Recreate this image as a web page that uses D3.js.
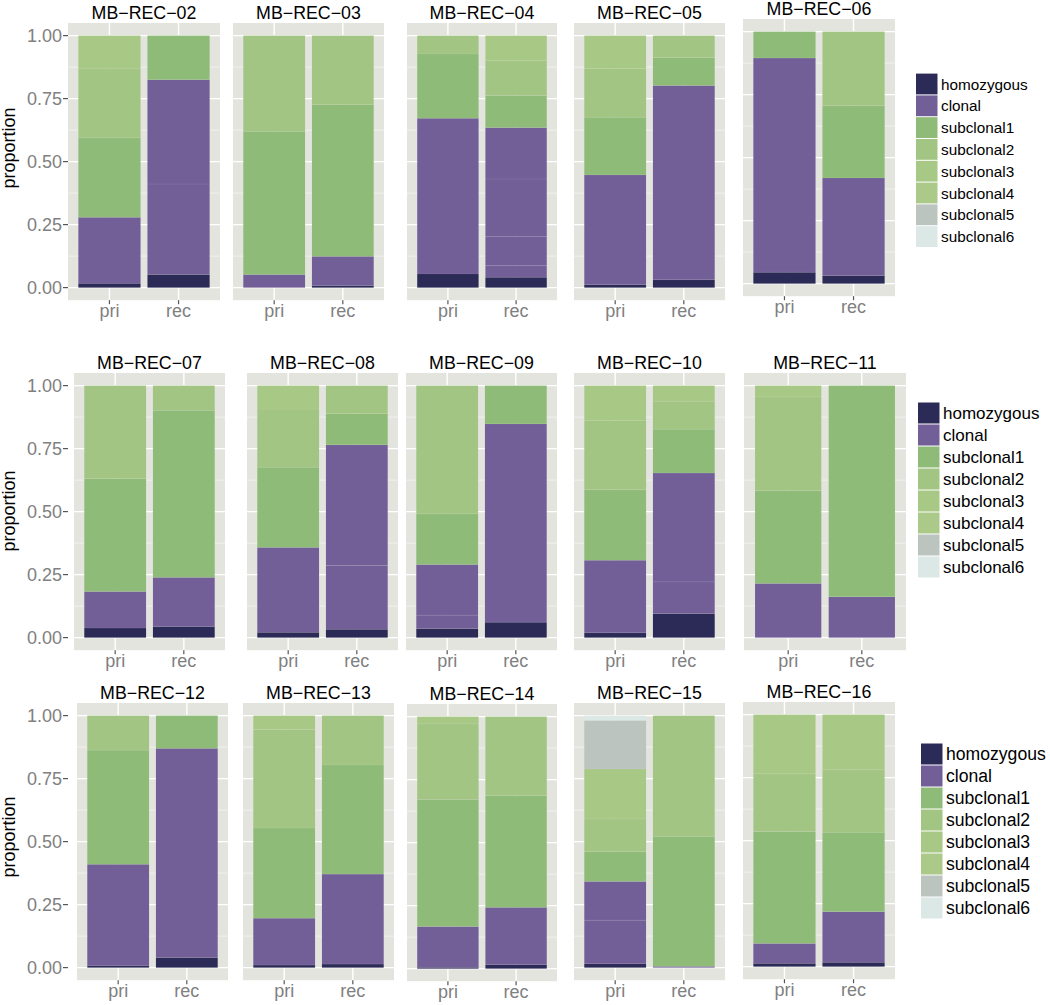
<!DOCTYPE html>
<html>
<head>
<meta charset="utf-8">
<script src="https://cdn.jsdelivr.net/npm/d3@7"></script>
<style>
  html, body { margin: 0; padding: 0; background: #ffffff; }
  svg { display: block; font-family: "Liberation Sans", Arial, Helvetica, sans-serif; }
</style>
</head>
<body>
<svg id="chart" width="1050" height="1005"></svg>
<script>
// ---------------- DATA ----------------
const categories = ["homozygous", "clonal", "subclonal1", "subclonal2", "subclonal3", "subclonal4", "subclonal5", "subclonal6"];
const categoryColors = ["#2c2a56", "#725f98", "#8fbb78", "#a3c584", "#a8c886", "#abca89", "#bcc4c0", "#dce8e5"];
const samples = ["MB-REC-02", "MB-REC-03", "MB-REC-04", "MB-REC-05", "MB-REC-06",
                 "MB-REC-07", "MB-REC-08", "MB-REC-09", "MB-REC-10", "MB-REC-11",
                 "MB-REC-12", "MB-REC-13", "MB-REC-14", "MB-REC-15", "MB-REC-16"];
const timepoints = ["pri", "rec"];
const yTicks = [0, 0.25, 0.5, 0.75, 1];
const yTickLabels = ["0.00", "0.25", "0.50", "0.75", "1.00"];
const yMinorTicks = [0.125, 0.375, 0.625, 0.875];

// stacked segments, bottom to top: [category index, proportion]
const priSegments = [
  [[0,.017],[1,.262],[2,.315],[3,.274],[4,.132]],
  [[1,.052],[2,.568],[3,.380]],
  [[0,.054],[1,.618],[2,.255],[3,.073]],
  [[0,.012],[1,.435],[2,.229],[3,.194],[4,.130]],
  [[0,.045],[1,.850],[2,.105]],
  [[0,.038],[1,.145],[2,.448],[3,.369]],
  [[0,.021],[1,.337],[2,.318],[3,.231],[4,.093]],
  [[0,.036],[1,.053],[1,.201],[2,.201],[3,.509]],
  [[0,.019],[1,.288],[2,.280],[3,.275],[4,.138]],
  [[1,.215],[2,.368],[3,.372],[4,.045]],
  [[0,.007],[1,.403],[2,.453],[3,.137]],
  [[0,.010],[1,.186],[2,.358],[3,.391],[4,.055]],
  [[0,.005],[1,.162],[2,.504],[3,.300],[4,.029]],
  [[0,.015],[1,.173],[1,.154],[2,.118],[3,.130],[4,.198],[6,.193],[7,.019]],
  [[0,.013],[1,.079],[2,.444],[3,.229],[4,.235]]
];
const recSegments = [
  [[0,.052],[1,.359],[1,.414],[2,.175]],
  [[0,.008],[1,.116],[2,.602],[3,.274]],
  [[0,.041],[1,.046],[1,.115],[1,.229],[1,.204],[2,.127],[3,.138],[4,.100]],
  [[0,.031],[1,.771],[2,.111],[3,.087]],
  [[0,.032],[1,.387],[2,.287],[3,.294]],
  [[0,.044],[1,.195],[2,.663],[3,.098]],
  [[0,.033],[1,.253],[1,.479],[2,.124],[3,.111]],
  [[0,.061],[1,.787],[2,.152]],
  [[0,.095],[1,.126],[1,.432],[2,.174],[3,.111],[4,.062]],
  [[1,.162],[2,.838]],
  [[0,.040],[1,.830],[2,.130]],
  [[0,.014],[1,.357],[2,.433],[3,.196]],
  [[0,.016],[1,.227],[2,.444],[3,.313]],
  [[1,.005],[2,.516],[3,.479]],
  [[0,.017],[1,.201],[2,.315],[3,.248],[4,.219]]
];

// ---------------- LAYOUT ----------------
const panelX = [68, 233, 407, 574, 743, 74, 247, 406, 574, 744, 77, 243, 407, 574, 743];
const panelW = [152, 151, 150, 151, 152, 151, 151, 151, 151, 162, 151, 151, 150, 151, 152];
const panelTop = [23, 23, 23, 23, 19, 373, 373, 373, 373, 373, 703, 703, 704, 703, 702];
const rows = [
  { axisPanel: 0, titleY: 148, legendBoxX: 916, legendTextX: 941, legendY: 84, legendStep: 21.8, legendFont: 15.3 },
  { axisPanel: 5, titleY: 511, legendBoxX: 918, legendTextX: 943, legendY: 413, legendStep: 22, legendFont: 17 },
  { axisPanel: 10, titleY: 837, legendBoxX: 921, legendTextX: 946, legendY: 754, legendStep: 22, legendFont: 17.6 }
];
const innerH = 252; // height of 0..1
const padH = 12.6;  // 5% expansion

const svg = d3.select("#chart");

samples.forEach((name, i) => {
  const x0 = panelX[i], w = panelW[i], top = panelTop[i];
  const yTop = top + padH, yBot = yTop + innerH, bot = yBot + padH;
  const x = d3.scalePoint().domain(timepoints).range([x0, x0 + w]).padding(0.6);
  const y = d3.scaleLinear().domain([0, 1]).range([yBot, yTop]);
  const bw = x.step() * 0.9;
  const g = svg.append("g");

  // panel background
  g.append("rect").attr("x", x0).attr("y", top).attr("width", w).attr("height", bot - top).attr("fill", "#e4e4df");
  // grid
  g.selectAll(".minor").data(yMinorTicks).enter().append("line")
    .attr("x1", x0).attr("x2", x0 + w).attr("y1", d => y(d)).attr("y2", d => y(d))
    .attr("stroke", "#f5f5f2").attr("stroke-width", 0.7);
  g.selectAll(".major").data(yTicks).enter().append("line")
    .attr("x1", x0).attr("x2", x0 + w).attr("y1", d => y(d)).attr("y2", d => y(d))
    .attr("stroke", "#ffffff").attr("stroke-width", 1.4);
  g.selectAll(".vmajor").data(timepoints).enter().append("line")
    .attr("x1", d => x(d)).attr("x2", d => x(d)).attr("y1", top).attr("y2", bot)
    .attr("stroke", "#ffffff").attr("stroke-width", 1.4);

  // bars
  [priSegments[i], recSegments[i]].forEach((segs, k) => {
    const cx = x(timepoints[k]);
    let cum = 0;
    const stacked = segs.map(([c, v]) => { const s = { c, y0: cum, y1: cum + v }; cum += v; return s; });
    g.selectAll(null).data(stacked).enter().append("rect")
      .attr("x", cx - bw / 2).attr("width", bw)
      .attr("y", d => y(d.y1)).attr("height", d => y(d.y0) - y(d.y1))
      .attr("fill", d => categoryColors[d.c]);
    // faint seams between stacked pieces
    g.selectAll(null).data(stacked.slice(1)).enter().append("line")
      .attr("x1", cx - bw / 2).attr("x2", cx + bw / 2)
      .attr("y1", d => y(d.y0)).attr("y2", d => y(d.y0))
      .attr("stroke", "#ffffff").attr("stroke-opacity", 0.09).attr("stroke-width", 0.8);
  });

  // title
  g.append("text").attr("x", x0 + w / 2).attr("y", top - 4)
    .attr("text-anchor", "middle").attr("font-size", 17.8).attr("fill", "#000")
    .text(name.replace(/-/g, "\u2212"));

  // x axis ticks & labels
  g.selectAll(".xt").data(timepoints).enter().append("line")
    .attr("x1", d => x(d)).attr("x2", d => x(d)).attr("y1", bot).attr("y2", bot + 4)
    .attr("stroke", "#555").attr("stroke-width", 1.2);
  g.selectAll(".xl").data(timepoints).enter().append("text")
    .attr("x", d => x(d)).attr("y", bot + 17)
    .attr("text-anchor", "middle").attr("font-size", 18).attr("fill", "#808080")
    .text(d => d);

  // y axis (first panel of each row)
  const row = rows.find(r => r.axisPanel === i);
  if (row) {
    g.selectAll(".yt").data(yTicks).enter().append("line")
      .attr("x1", 63).attr("x2", 68).attr("y1", d => y(d)).attr("y2", d => y(d))
      .attr("stroke", "#555").attr("stroke-width", 1.2);
    g.selectAll(".yl").data(yTicks).enter().append("text")
      .attr("x", 62).attr("y", d => y(d)).attr("dy", "0.36em")
      .attr("text-anchor", "end").attr("font-size", 18).attr("fill", "#808080")
      .text((d, j) => yTickLabels[j]);
    g.append("text")
      .attr("transform", `translate(15,${row.titleY}) rotate(-90)`)
      .attr("text-anchor", "middle").attr("font-size", 18).attr("fill", "#000")
      .text("proportion");
  }
});

// legends
rows.forEach(row => {
  const lg = svg.append("g");
  const boxH = row.legendStep - 1;
  lg.selectAll("rect").data(categories).enter().append("rect")
    .attr("x", row.legendBoxX).attr("width", 21.5)
    .attr("y", (d, j) => row.legendY + j * row.legendStep - boxH / 2).attr("height", boxH)
    .attr("fill", (d, j) => categoryColors[j]);
  lg.selectAll("text").data(categories).enter().append("text")
    .attr("x", row.legendTextX).attr("y", (d, j) => row.legendY + j * row.legendStep)
    .attr("dy", "0.36em").attr("font-size", row.legendFont).attr("fill", "#000")
    .text(d => d);
});
</script>
</body>
</html>
